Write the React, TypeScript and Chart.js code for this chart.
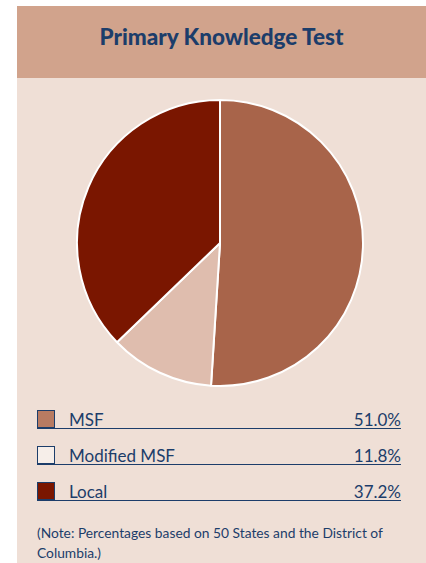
import React, { useEffect, useRef } from "react";
import { Chart, registerables } from "chart.js";

Chart.register(...registerables);

const TITLE = "Primary Knowledge Test";
const categories = ["MSF", "Modified MSF", "Local"];
const values = [51.0, 11.8, 37.2];
const NOTE = "(Note: Percentages based on 50 States and the District of Columbia.)";

const sliceColors = ["#A8644A", "#DFBDAE", "#7A1600"];
const swatchColors = ["#B87B62", "#F6EEE9", "#7A1600"];
const NAVY = "#1C3D6A";
const FONT = "Lato, 'Open Sans', sans-serif";

export default function App() {
  const ref = useRef<HTMLCanvasElement | null>(null);

  useEffect(() => {
    if (!ref.current) return;
    const chart = new Chart(ref.current, {
      type: "pie",
      data: {
        labels: categories,
        datasets: [
          {
            data: values,
            backgroundColor: sliceColors,
            borderColor: "#FFFFFF",
            borderWidth: 2,
            hoverOffset: 0,
          },
        ],
      },
      options: {
        responsive: false,
        animation: false,
        events: [],
        layout: { padding: 0 },
        plugins: {
          legend: { display: false },
          tooltip: { enabled: false },
          title: { display: false },
        },
      },
    });
    return () => chart.destroy();
  }, []);

  return (
    <div
      style={{
        position: "absolute",
        left: 0,
        top: 0,
        width: 426,
        height: 563,
        background: "#FFFFFF",
        overflow: "hidden",
        fontFamily: FONT,
      }}
    >
      <div
        style={{
          position: "absolute",
          left: 17,
          top: 6,
          width: 409,
          height: 557,
          background: "#EFDFD6",
        }}
      />
      <div
        style={{
          position: "absolute",
          left: 17,
          top: 6,
          width: 409,
          height: 72,
          background: "#D1A38C",
        }}
      />
      <div
        style={{
          position: "absolute",
          left: 17,
          top: 24,
          width: 409,
          textAlign: "center",
          fontSize: 22.5,
          fontWeight: 900,
          lineHeight: "26px",
          color: NAVY,
        }}
      >
        {TITLE}
      </div>
      <canvas
        ref={ref}
        width={288}
        height={288}
        style={{ position: "absolute", left: 76, top: 99, width: 288, height: 288 }}
      />
      {categories.map((c, i) => (
        <div
          key={c}
          style={{
            position: "absolute",
            left: 37,
            top: 410 + 36 * i,
            width: 364,
            height: 18,
            borderBottom: `1.5px solid ${NAVY}`,
          }}
        >
          <div
            style={{
              position: "absolute",
              left: 0,
              top: 0,
              width: 18,
              height: 18,
              boxSizing: "border-box",
              border: `1px solid ${NAVY}`,
              background: swatchColors[i],
            }}
          />
          <div
            style={{
              position: "absolute",
              left: 32,
              bottom: -1,
              fontSize: 17,
              lineHeight: "18px",
              color: NAVY,
            }}
          >
            {c}
          </div>
          <div
            style={{
              position: "absolute",
              right: 0,
              bottom: -1,
              fontSize: 17,
              lineHeight: "18px",
              color: NAVY,
            }}
          >
            {values[i].toFixed(1) + "%"}
          </div>
        </div>
      ))}
      <div
        style={{
          position: "absolute",
          left: 37,
          top: 523,
          width: 370,
          fontSize: 13.8,
          lineHeight: "20px",
          color: NAVY,
        }}
      >
        {NOTE}
      </div>
    </div>
  );
}
